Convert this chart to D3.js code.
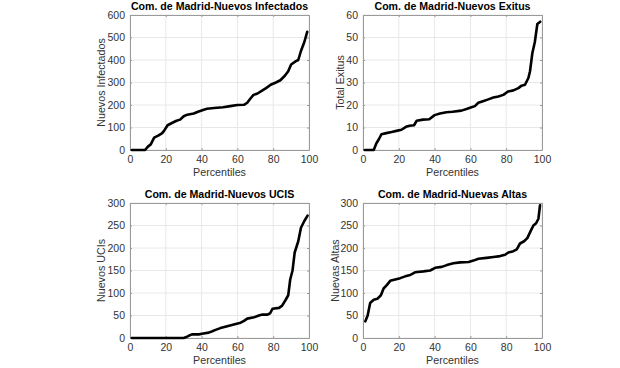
<!DOCTYPE html>
<html>
<head>
<meta charset="utf-8">
<script src="https://cdn.jsdelivr.net/npm/d3@7"></script>
<style>
  body { margin: 0; background: #fff; }
  svg { display: block; font-family: "Liberation Sans", Arial, sans-serif; }
</style>
</head>
<body>
<div id="chart"></div>
<script>
// percentiles (x) and values (y)
const pctInfectados = [1, 8.4, 10, 11.6, 13.5, 16, 18, 19, 21, 23.4, 26, 28, 30, 32, 35.6, 38, 40.8, 43, 47, 52, 56, 60, 63.7, 65.5, 67.4, 69, 71, 74, 76, 78.6, 81.5, 84, 86.5, 88.4, 90, 92.7, 94, 95.5, 97.4, 99];
const valInfectados = [0, 0, 15, 25, 55, 65, 75, 85, 110, 120, 130, 135, 150, 157, 162, 170, 178, 183, 187, 190, 195, 200, 201, 210, 230, 245, 250, 265, 275, 290, 300, 310, 330, 350, 380, 395, 400, 440, 480, 525];

const pctExitus = [1, 6, 7.5, 9, 10.3, 13, 16, 18.7, 21.5, 24, 26, 28.5, 30, 33.5, 37, 40, 43, 46.6, 50, 55, 57.8, 60.6, 62.5, 64.4, 67, 70, 72.8, 75.6, 78.4, 81, 84, 86.8, 88.6, 90.5, 92.4, 93.3, 94.6, 96, 97.4, 99];
const valExitus = [0, 0, 3, 5, 7, 7.5, 8, 8.5, 9, 10.3, 10.8, 11, 13, 13.5, 13.7, 15.5, 16.2, 16.8, 17, 17.5, 18.2, 19, 19.5, 21, 21.7, 22.5, 23.3, 23.8, 24.5, 26, 26.5, 27.5, 28.6, 29, 32, 35, 43, 48, 56, 57];

const pctUcis = [1, 30, 31.5, 32.8, 34.6, 38.4, 41, 44, 46, 47.8, 50.5, 54.3, 58, 61.8, 63.7, 65.5, 69.3, 72, 74, 76.8, 78.3, 79.6, 83.3, 85, 87, 88.4, 89.5, 90.8, 92, 94, 95.5, 97.4, 99.2];
const valUcis = [0, 0, 2, 5, 8, 8, 10, 12, 15, 18, 22, 26, 30, 34, 38, 43, 46, 50, 52, 52, 55, 65, 67, 72, 85, 95, 130, 150, 190, 215, 245, 260, 272];

const pctAltas = [1.3, 2.6, 4, 6, 8, 10, 11.5, 13.4, 15.2, 18, 20.8, 23.6, 26.4, 29, 33.8, 37.5, 40.3, 44, 46.8, 50.5, 54.3, 59, 61.7, 64.5, 69, 72.9, 76.6, 79.4, 81.2, 84, 85.9, 87.7, 90, 91.8, 93.7, 95.2, 96.7, 98, 98.9];
const valAltas = [37, 50, 78, 85, 87, 95, 110, 118, 127, 130, 133, 137, 140, 146, 148, 150, 156, 158, 162, 166, 168, 169, 172, 176, 178, 180, 182, 185, 190, 193, 197, 210, 215, 222, 238, 250, 255, 265, 295];

const xTicks = [0, 20, 40, 60, 80, 100];

const panels = [
  {title: 'Com. de Madrid-Nuevos Infectados', ylabel: 'Nuevos Infectados', x: pctInfectados, y: valInfectados,
   ymax: 600, yticks: [0, 100, 200, 300, 400, 500, 600], left: 130, top: 15, labelX: 101},
  {title: 'Com. de Madrid-Nuevos Exitus', ylabel: 'Total Exitus', x: pctExitus, y: valExitus,
   ymax: 60, yticks: [0, 10, 20, 30, 40, 50, 60], left: 363, top: 15, labelX: 340},
  {title: 'Com. de Madrid-Nuevos UCIS', ylabel: 'Nuevos UCIs', x: pctUcis, y: valUcis,
   ymax: 300, yticks: [0, 50, 100, 150, 200, 250, 300], left: 130, top: 203, labelX: 101},
  {title: 'Com. de Madrid-Nuevas Altas', ylabel: 'Nuevas Altas', x: pctAltas, y: valAltas,
   ymax: 300, yticks: [0, 50, 100, 150, 200, 250, 300], left: 363, top: 203, labelX: 335}
];

const width = 620, height = 368;
const pw = 179, ph = 135;

const svg = d3.select('#chart').append('svg')
  .attr('width', width).attr('height', height);

panels.forEach((p) => {
  const g = svg.append('g').attr('transform', `translate(${p.left},${p.top})`);
  const x = d3.scaleLinear().domain([0, 100]).range([0, pw]);
  const y = d3.scaleLinear().domain([0, p.ymax]).range([ph, 0]);

  // grid
  g.append('g').selectAll('line').data(xTicks).enter().append('line')
    .attr('x1', (d) => x(d)).attr('x2', (d) => x(d))
    .attr('y1', 0).attr('y2', ph)
    .attr('stroke', '#e8e8e8').attr('stroke-width', 1);
  g.append('g').selectAll('line').data(p.yticks).enter().append('line')
    .attr('x1', 0).attr('x2', pw)
    .attr('y1', (d) => y(d)).attr('y2', (d) => y(d))
    .attr('stroke', '#e8e8e8').attr('stroke-width', 1);

  // axes with inward ticks
  const xAxis = g.append('g').attr('transform', `translate(0,${ph})`)
    .call(d3.axisBottom(x).tickValues(xTicks).tickSizeInner(-2).tickSizeOuter(0).tickPadding(6));
  const yAxis = g.append('g')
    .call(d3.axisLeft(y).tickValues(p.yticks).tickSizeInner(-2).tickSizeOuter(0).tickPadding(5));
  g.append('g')
    .call(d3.axisTop(x).tickValues(xTicks).tickSizeInner(-2).tickSizeOuter(0).tickFormat(''));
  g.append('g').attr('transform', `translate(${pw},0)`)
    .call(d3.axisRight(y).tickValues(p.yticks).tickSizeInner(-2).tickSizeOuter(0).tickFormat(''));

  g.selectAll('.domain').attr('stroke', '#9a9a9a');
  g.selectAll('.tick line').attr('stroke', '#9a9a9a');
  [xAxis, yAxis].forEach((a) => a.selectAll('text')
    .attr('font-family', '"Liberation Sans", Arial, sans-serif')
    .attr('font-size', 10.5).attr('fill', '#333'));

  // curve
  const line = d3.line()
    .x((d, i) => x(p.x[i]))
    .y((d) => y(d));
  g.append('path')
    .datum(p.y)
    .attr('d', line)
    .attr('fill', 'none')
    .attr('stroke', '#000')
    .attr('stroke-width', 2.6)
    .attr('stroke-linejoin', 'round')
    .attr('stroke-linecap', 'round');

  // title
  g.append('text')
    .attr('x', pw / 2).attr('y', -5)
    .attr('text-anchor', 'middle')
    .attr('font-weight', 'bold').attr('font-size', 10.6)
    .attr('fill', '#000')
    .text(p.title);

  // x label
  g.append('text')
    .attr('x', pw / 2).attr('y', ph + 26)
    .attr('text-anchor', 'middle')
    .attr('font-size', 10.7).attr('fill', '#333')
    .text('Percentiles');

  // y label
  svg.append('text')
    .attr('transform', `translate(${p.labelX},${p.top + ph / 2}) rotate(-90)`)
    .attr('text-anchor', 'middle').attr('dy', '0.35em')
    .attr('font-size', 10.7).attr('fill', '#333')
    .text(p.ylabel);
});
</script>
</body>
</html>
